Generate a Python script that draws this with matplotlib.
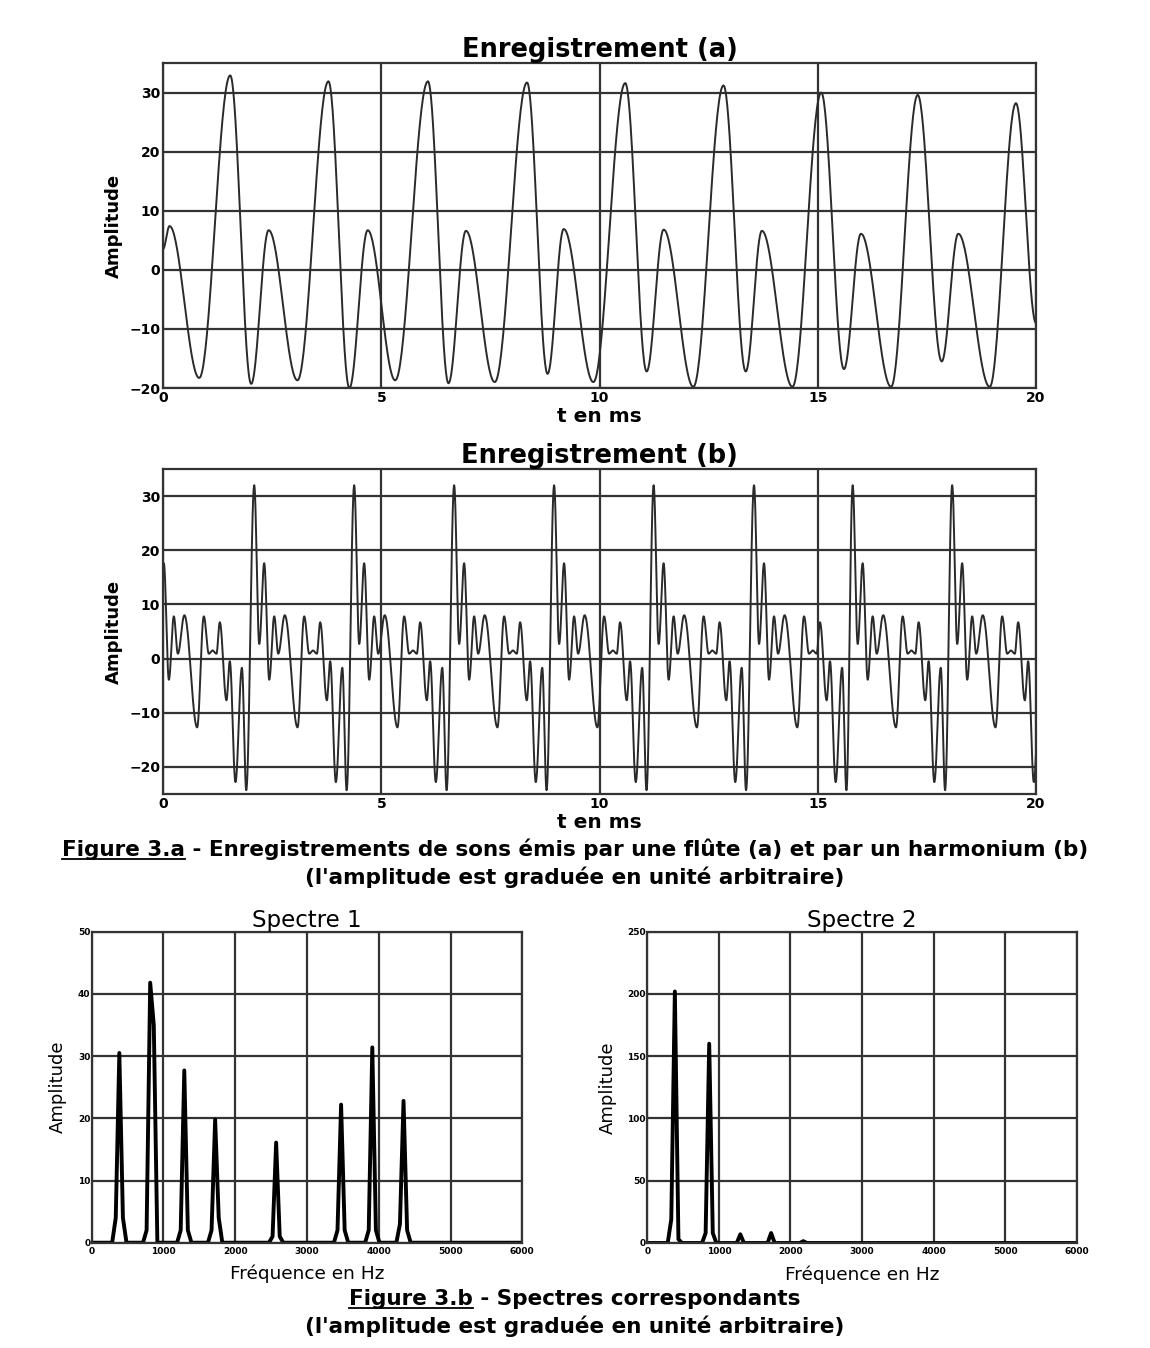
import matplotlib.pyplot as plt
import numpy as np
from matplotlib.lines import Line2D

plt.rcParams['font.family'] = 'DejaVu Sans'

# Enregistrement (a) : extrema (t en ms, amplitude)
rec_a_t = [0.0, 0.15, 0.83, 1.54, 2.02, 2.42, 3.08, 3.79, 4.27, 4.69, 5.32,
           6.07, 6.54, 6.94, 7.60, 8.34, 8.81, 9.18, 9.86, 10.59, 11.08,
           11.47, 12.15, 12.84, 13.35, 13.72, 14.42, 15.08, 15.60, 15.99,
           16.68, 17.29, 17.84, 18.22, 18.94, 19.54, 20.0]
rec_a_v = [3.5, 7.4, -18.3, 32.9, -19.3, 6.7, -18.7, 31.9, -20.0, 6.7, -18.7,
           31.9, -19.2, 6.6, -19.0, 31.7, -17.6, 6.9, -19.0, 31.6, -17.2,
           6.8, -19.8, 31.2, -17.2, 6.6, -19.8, 30.0, -16.8, 6.1,
           -19.8, 29.6, -15.5, 6.1, -19.8, 28.2, -9.0]

# Enregistrement (b) : motif d'une période (décalage / pic principal) et instants des pics
rec_b_offsets = [0.0, 0.115, 0.229, 0.344, 0.458, 0.55, 0.70, 0.992, 1.145,
                 1.26, 1.344, 1.435, 1.511, 1.664, 1.74, 1.87, 2.018, 2.117]
rec_b_values = [32.0, 2.7, 17.6, -3.9, 7.8, 0.9, 8.0, -12.7, 7.8,
                0.9, 1.5, 0.9, 6.7, -7.7, -0.5, -22.8, -1.7, -24.3]
rec_b_spikes = [-0.21, 2.09, 4.38, 6.67, 8.96, 11.24, 13.54, 15.80, 18.08]

# Spectre 1
spec1_freq = [385, 815, 1290, 1720, 2570, 3475, 3910, 4345]
spec1_amp = [30.5, 41.8, 27.7, 19.8, 16.1, 22.2, 31.4, 22.8]
spec1_left = [4, 2, 2, 2, 1, 2, 2, 3]
spec1_right = [4, 35, 2, 4, 1, 2, 2, 2]

# Spectre 2
spec2_freq = [385, 865, 1300, 1730, 2180]
spec2_amp = [202, 160, 7, 8, 1.5]
spec2_left = [19, 8, 0, 0, 0]
spec2_right = [3, 8, 0, 0, 0]


def smooth(t_pts, v_pts, n=40):
    ts, vs = [], []
    for i in range(len(t_pts) - 1):
        s = np.linspace(0, 1, n, endpoint=False)
        ts.append(t_pts[i] + (t_pts[i + 1] - t_pts[i]) * s)
        vs.append(v_pts[i] + (v_pts[i + 1] - v_pts[i]) * (1 - np.cos(np.pi * s)) / 2)
    ts.append([t_pts[-1]])
    vs.append([v_pts[-1]])
    return np.concatenate(ts), np.concatenate(vs)


def spectrum_line(freqs, amps, left, right):
    xs, ys = [0], [0]
    for f, a, l, r in zip(freqs, amps, left, right):
        xs += [f - 100, f - 50, f, f + 50, f + 100]
        ys += [0, l, a, r, 0]
    xs.append(6000)
    ys.append(0)
    return xs, ys


b_t, b_v = [], []
for s in rec_b_spikes:
    for o, v in zip(rec_b_offsets, rec_b_values):
        b_t.append(s + o)
        b_v.append(v)

W, H = 1150, 1348
fig = plt.figure(figsize=(W / 100, H / 100), dpi=100)

grid_kw = dict(color='#333333', linewidth=1.6)


def style(ax, tick_size, bold=True, xpad=2, ypad=2):
    ax.grid(True, **grid_kw)
    ax.set_axisbelow(True)
    for sp in ax.spines.values():
        sp.set_linewidth(1.6)
        sp.set_color('#333333')
    ax.tick_params(length=0, labelsize=tick_size)
    ax.tick_params(axis='x', pad=xpad)
    ax.tick_params(axis='y', pad=ypad)
    for lab in ax.get_xticklabels() + ax.get_yticklabels():
        lab.set_fontweight('bold' if bold else 'normal')


# --- Enregistrement (a)
ax1 = fig.add_axes([163 / W, 1 - 388 / H, 873 / W, 325 / H])
t, v = smooth(rec_a_t, rec_a_v)
ax1.plot(t, v, color='#2a2a2a', lw=1.4)
ax1.set_xlim(0, 20)
ax1.set_ylim(-20, 35)
ax1.set_xticks([0, 5, 10, 15, 20])
ax1.set_yticks([-20, -10, 0, 10, 20, 30])
style(ax1, 10)
ax1.set_title('Enregistrement (a)', fontsize=18.5, fontweight='bold', pad=0)
ax1.set_xlabel('t en ms', fontsize=14.5, fontweight='bold')
ax1.xaxis.set_label_coords(0.5, -0.058)
ax1.set_ylabel('Amplitude', fontsize=13, fontweight='bold')
ax1.yaxis.set_label_coords(-0.046, 0.5)

# --- Enregistrement (b)
ax2 = fig.add_axes([163 / W, 1 - 794 / H, 873 / W, 325 / H])
t, v = smooth(b_t, b_v)
ax2.plot(t, v, color='#2a2a2a', lw=1.4)
ax2.set_xlim(0, 20)
ax2.set_ylim(-25, 35)
ax2.set_xticks([0, 5, 10, 15, 20])
ax2.set_yticks([-20, -10, 0, 10, 20, 30])
style(ax2, 10)
ax2.set_title('Enregistrement (b)', fontsize=18.5, fontweight='bold', pad=0)
ax2.set_xlabel('t en ms', fontsize=14.5, fontweight='bold')
ax2.xaxis.set_label_coords(0.5, -0.058)
ax2.set_ylabel('Amplitude', fontsize=13, fontweight='bold')
ax2.yaxis.set_label_coords(-0.046, 0.5)

# --- Spectre 1
ax3 = fig.add_axes([91.7 / W, 1 - 1242.7 / H, 430.6 / W, 311 / H])
xs, ys = spectrum_line(spec1_freq, spec1_amp, spec1_left, spec1_right)
ax3.plot(xs, ys, color='black', lw=2.8)
ax3.set_xlim(0, 6000)
ax3.set_ylim(0, 50)
ax3.set_xticks(range(0, 6001, 1000))
ax3.set_yticks(range(0, 51, 10))
style(ax3, 6.5, xpad=3, ypad=1)
ax3.set_title('Spectre 1', fontsize=16.5, pad=2)
ax3.set_xlabel('Fréquence en Hz', fontsize=13.3)
ax3.xaxis.set_label_coords(0.5, -0.071)
ax3.set_ylabel('Amplitude', fontsize=13)
ax3.yaxis.set_label_coords(-0.057, 0.5)

# --- Spectre 2
ax4 = fig.add_axes([647.3 / W, 1 - 1243 / H, 429.4 / W, 311.3 / H])
xs, ys = spectrum_line(spec2_freq, spec2_amp, spec2_left, spec2_right)
ax4.plot(xs, ys, color='black', lw=2.8)
ax4.set_xlim(0, 6000)
ax4.set_ylim(0, 250)
ax4.set_xticks(range(0, 6001, 1000))
ax4.set_yticks(range(0, 251, 50))
style(ax4, 6.5, xpad=3, ypad=1)
ax4.set_title('Spectre 2', fontsize=16.5, pad=2)
ax4.set_xlabel('Fréquence en Hz', fontsize=13.3)
ax4.xaxis.set_label_coords(0.5, -0.071)
ax4.set_ylabel('Amplitude', fontsize=13)
ax4.yaxis.set_label_coords(-0.071, 0.5)

# --- Légendes des figures
cap_kw = dict(fontsize=15.5, fontweight='bold', ha='center', va='baseline')
captions = [
    ('Figure 3.a', ' - Enregistrements de sons émis par une flûte (a) et par un harmonium (b)', 856),
    ('Figure 3.b', ' - Spectres correspondants', 1305),
]
sub_lines = [('(l\'amplitude est graduée en unité arbitraire)', 884),
             ('(l\'amplitude est graduée en unité arbitraire)', 1333)]

fig.canvas.draw()
renderer = fig.canvas.get_renderer()
for head, rest, yb in captions:
    full = fig.text(0.5, 1 - yb / H, head + rest, **cap_kw)
    tmp = fig.text(0, 0, head, fontsize=15.5, fontweight='bold')
    bb = full.get_window_extent(renderer)
    w = tmp.get_window_extent(renderer).width
    tmp.remove()
    y_line = 1 - (yb + 3) / H
    fig.add_artist(Line2D([bb.x0 / W, (bb.x0 + w) / W], [y_line, y_line],
                          color='black', lw=1.3))
for txt, yb in sub_lines:
    fig.text(0.5, 1 - yb / H, txt, **cap_kw)

fig.savefig('out.png', dpi=100, facecolor='white')
